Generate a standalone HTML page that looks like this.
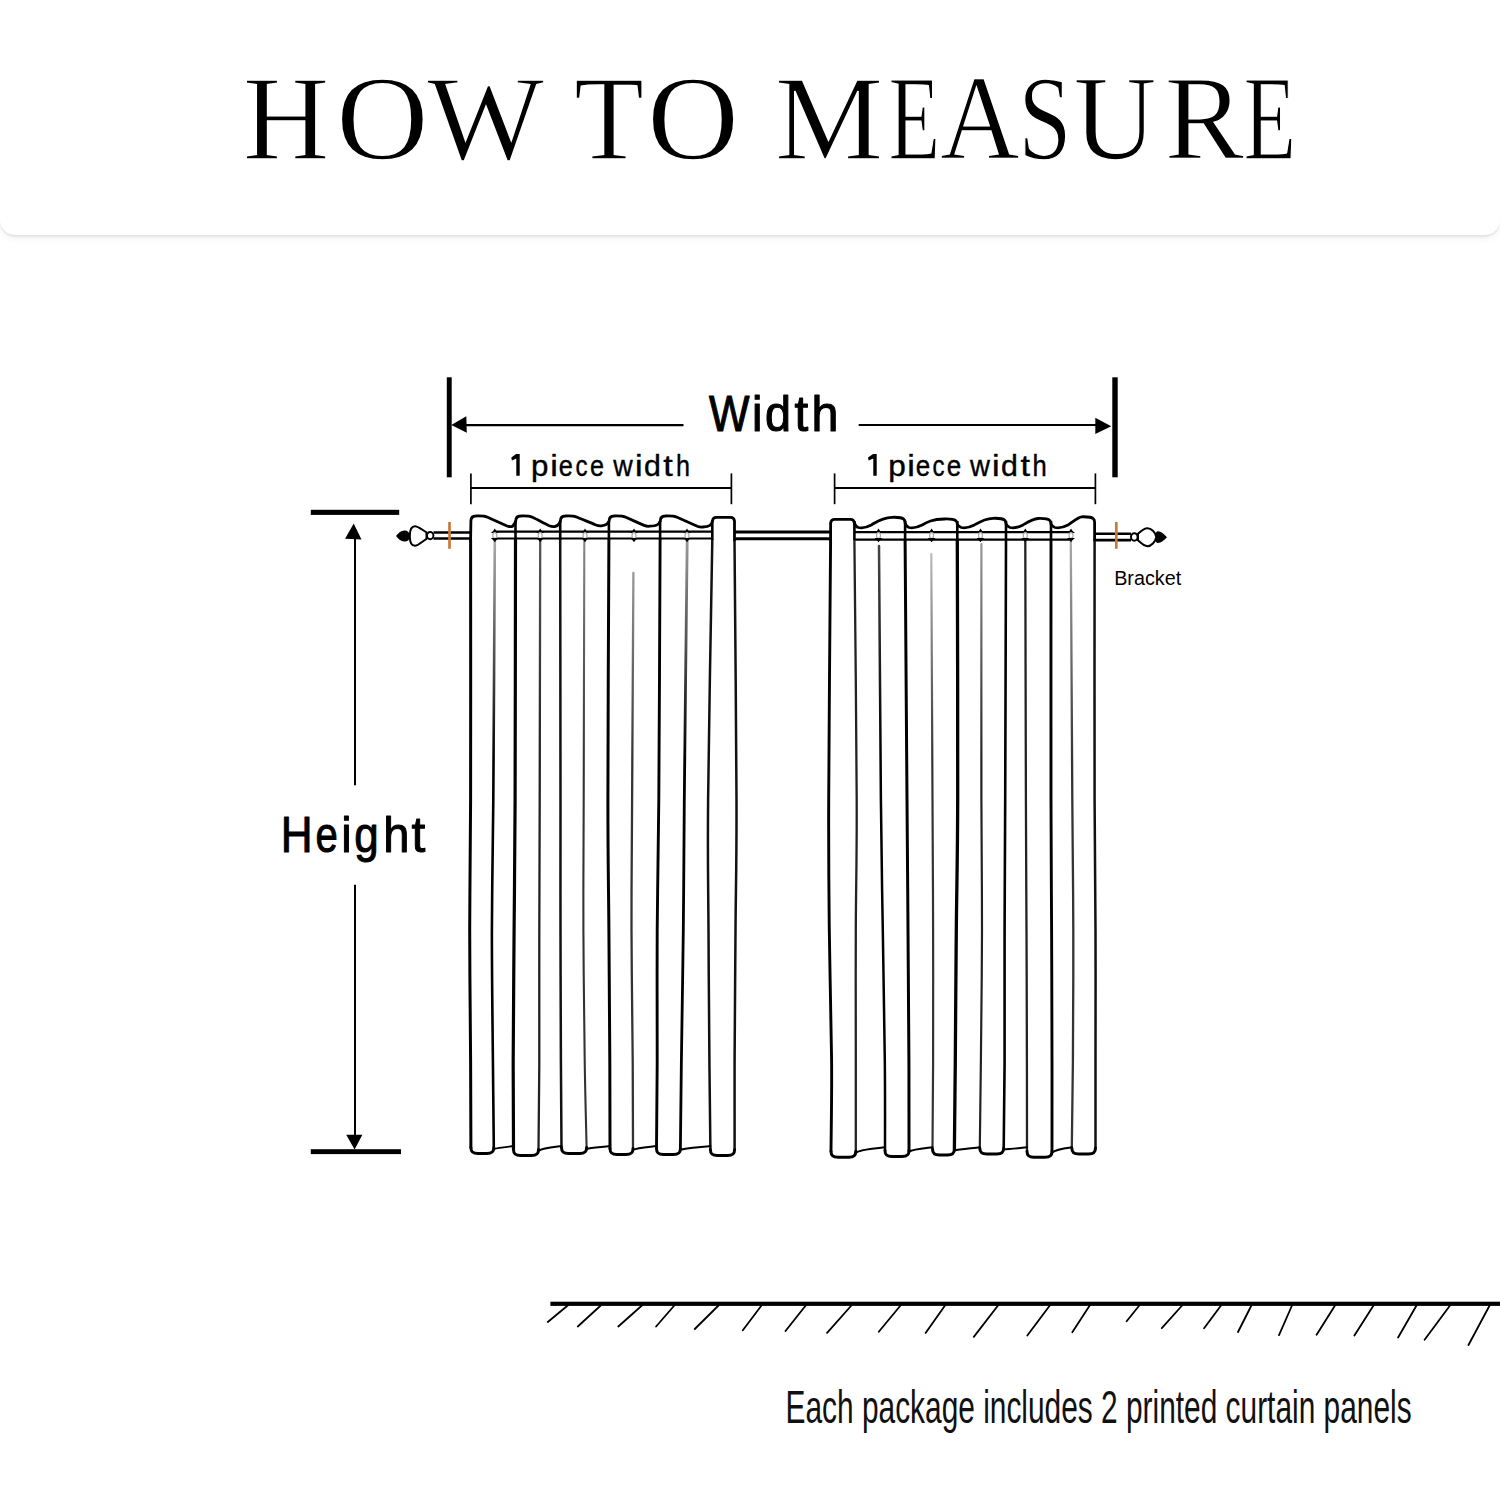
<!DOCTYPE html>
<html><head><meta charset="utf-8"><title>How to measure</title>
<style>
html,body{margin:0;padding:0;background:#fff;}
body{width:1500px;height:1500px;position:relative;overflow:hidden;font-family:"Liberation Sans",sans-serif;}
.card{position:absolute;left:0;top:-30px;width:1500px;height:265px;background:#fff;border-radius:0 0 15px 15px;box-shadow:0 2px 2px rgba(0,0,0,0.08),0 5px 6px rgba(0,0,0,0.035);}
svg{position:absolute;left:0;top:0;}
</style></head>
<body>
<div class="card"></div>
<svg width="1500" height="1500" viewBox="0 0 1500 1500">
<defs><linearGradient id="gl1" gradientUnits="userSpaceOnUse" x1="0" y1="541" x2="0" y2="760"><stop offset="0" stop-color="#aaa"/><stop offset="1" stop-color="#000"/></linearGradient><linearGradient id="gl3" gradientUnits="userSpaceOnUse" x1="0" y1="541" x2="0" y2="760"><stop offset="0" stop-color="#555"/><stop offset="1" stop-color="#222"/></linearGradient><linearGradient id="gl5" gradientUnits="userSpaceOnUse" x1="0" y1="541" x2="0" y2="760"><stop offset="0" stop-color="#888"/><stop offset="1" stop-color="#333"/></linearGradient><linearGradient id="gl7" gradientUnits="userSpaceOnUse" x1="0" y1="573" x2="0" y2="760"><stop offset="0" stop-color="#999"/><stop offset="1" stop-color="#333"/></linearGradient><linearGradient id="gl9" gradientUnits="userSpaceOnUse" x1="0" y1="541" x2="0" y2="760"><stop offset="0" stop-color="#999"/><stop offset="1" stop-color="#000"/></linearGradient><linearGradient id="gr2" gradientUnits="userSpaceOnUse" x1="0" y1="546" x2="0" y2="760"><stop offset="0" stop-color="#444"/><stop offset="1" stop-color="#000"/></linearGradient><linearGradient id="gr4" gradientUnits="userSpaceOnUse" x1="0" y1="554" x2="0" y2="760"><stop offset="0" stop-color="#bbb"/><stop offset="1" stop-color="#333"/></linearGradient><linearGradient id="gr6" gradientUnits="userSpaceOnUse" x1="0" y1="544" x2="0" y2="760"><stop offset="0" stop-color="#999"/><stop offset="1" stop-color="#222"/></linearGradient><linearGradient id="gr10" gradientUnits="userSpaceOnUse" x1="0" y1="542" x2="0" y2="760"><stop offset="0" stop-color="#aaa"/><stop offset="1" stop-color="#333"/></linearGradient></defs>
<text transform="translate(242.67,158.65) scale(0.9873,1)" font-family="Liberation Serif" font-size="121.69" stroke="#fff" stroke-width="1.5">H</text>
<text transform="translate(335.94,158.65) scale(1.0556,1)" font-family="Liberation Serif" font-size="121.69" stroke="#fff" stroke-width="1.5">O</text>
<text transform="translate(426.95,158.65) scale(1.0208,1)" font-family="Liberation Serif" font-size="121.69" stroke="#fff" stroke-width="1.5">W</text>
<text transform="translate(574.06,158.65) scale(0.9425,1)" font-family="Liberation Serif" font-size="121.69" stroke="#fff" stroke-width="1.5">T</text>
<text transform="translate(646.96,158.65) scale(1.0481,1)" font-family="Liberation Serif" font-size="121.69" stroke="#fff" stroke-width="1.5">O</text>
<text transform="translate(774.84,158.65) scale(1.0031,1)" font-family="Liberation Serif" font-size="121.69" stroke="#fff" stroke-width="1.5">M</text>
<text transform="translate(888.43,158.65) scale(0.6957,1)" font-family="Liberation Serif" font-size="121.69" stroke="#fff" stroke-width="1.5">E</text>
<text transform="translate(939.95,158.65) scale(0.9067,1)" font-family="Liberation Serif" font-size="121.69" stroke="#fff" stroke-width="1.5">A</text>
<text transform="translate(1018.25,158.65) scale(0.7889,1)" font-family="Liberation Serif" font-size="121.69" stroke="#fff" stroke-width="1.5">S</text>
<text transform="translate(1073.45,158.65) scale(0.9455,1)" font-family="Liberation Serif" font-size="121.69" stroke="#fff" stroke-width="1.5">U</text>
<text transform="translate(1164.59,158.65) scale(0.9805,1)" font-family="Liberation Serif" font-size="121.69" stroke="#fff" stroke-width="1.5">R</text>
<text transform="translate(1243.50,158.65) scale(0.7078,1)" font-family="Liberation Serif" font-size="121.69" stroke="#fff" stroke-width="1.5">E</text>
<text transform="translate(709.05,430.55) scale(0.8606,1)" font-family="Liberation Sans" font-size="49.86" stroke="#000" stroke-width="1.1" stroke-linejoin="round">W</text>
<text transform="translate(752.12,430.55) scale(0.9413,1)" font-family="Liberation Sans" font-size="49.86" stroke="#000" stroke-width="1.1" stroke-linejoin="round">i</text>
<text transform="translate(765.09,430.55) scale(0.9370,1)" font-family="Liberation Sans" font-size="49.86" stroke="#000" stroke-width="1.1" stroke-linejoin="round">d</text>
<text transform="translate(794.55,430.55) scale(0.9912,1)" font-family="Liberation Sans" font-size="49.86" stroke="#000" stroke-width="1.1" stroke-linejoin="round">t</text>
<text transform="translate(811.52,430.55) scale(0.9719,1)" font-family="Liberation Sans" font-size="49.86" stroke="#000" stroke-width="1.1" stroke-linejoin="round">h</text>
<text transform="translate(280.86,851.70) scale(0.8769,1)" font-family="Liberation Sans" font-size="50.28" stroke="#000" stroke-width="1.0" stroke-linejoin="round">H</text>
<text transform="translate(315.45,851.70) scale(0.7966,1)" font-family="Liberation Sans" font-size="50.28" stroke="#000" stroke-width="1.0" stroke-linejoin="round">e</text>
<text transform="translate(341.37,851.70) scale(0.9335,1)" font-family="Liberation Sans" font-size="50.28" stroke="#000" stroke-width="1.0" stroke-linejoin="round">i</text>
<text transform="translate(354.33,851.70) scale(0.8741,1)" font-family="Liberation Sans" font-size="50.28" stroke="#000" stroke-width="1.0" stroke-linejoin="round">g</text>
<text transform="translate(383.36,851.70) scale(0.9365,1)" font-family="Liberation Sans" font-size="50.28" stroke="#000" stroke-width="1.0" stroke-linejoin="round">h</text>
<text transform="translate(411.50,851.70) scale(0.9900,1)" font-family="Liberation Sans" font-size="50.28" stroke="#000" stroke-width="1.0" stroke-linejoin="round">t</text>
<path d="M516.1,454.0 L519.7,454.0 L519.7,475.7 L516.3,475.7 L516.3,458.6 L511.9,460.6 L511.3,457.6 Z" fill="#000"/>
<text transform="translate(530.94,475.50) scale(1.0534,1)" font-family="Liberation Sans" font-size="29.75" stroke="#000" stroke-width="0.4" stroke-linejoin="round">p</text>
<text transform="translate(550.26,475.50) scale(1.1500,1)" font-family="Liberation Sans" font-size="29.75" stroke="#000" stroke-width="0.4" stroke-linejoin="round">i</text>
<text transform="translate(558.71,475.50) scale(0.8536,1)" font-family="Liberation Sans" font-size="29.75" stroke="#000" stroke-width="0.4" stroke-linejoin="round">e</text>
<text transform="translate(575.45,475.50) scale(0.8086,1)" font-family="Liberation Sans" font-size="29.75" stroke="#000" stroke-width="0.4" stroke-linejoin="round">c</text>
<text transform="translate(590.11,475.50) scale(0.8467,1)" font-family="Liberation Sans" font-size="29.75" stroke="#000" stroke-width="0.4" stroke-linejoin="round">e</text>
<text transform="translate(613.32,475.50) scale(0.9054,1)" font-family="Liberation Sans" font-size="29.75" stroke="#000" stroke-width="0.4" stroke-linejoin="round">w</text>
<text transform="translate(634.96,475.50) scale(1.1500,1)" font-family="Liberation Sans" font-size="29.75" stroke="#000" stroke-width="0.4" stroke-linejoin="round">i</text>
<text transform="translate(643.95,475.50) scale(1.0183,1)" font-family="Liberation Sans" font-size="29.75" stroke="#000" stroke-width="0.4" stroke-linejoin="round">d</text>
<text transform="translate(663.19,475.50) scale(1.1500,1)" font-family="Liberation Sans" font-size="29.75" stroke="#000" stroke-width="0.4" stroke-linejoin="round">t</text>
<text transform="translate(675.93,475.50) scale(0.8452,1)" font-family="Liberation Sans" font-size="29.75" stroke="#000" stroke-width="0.4" stroke-linejoin="round">h</text>
<path d="M873.1,454.0 L876.7,454.0 L876.7,475.7 L873.3,475.7 L873.3,458.6 L868.6,460.6 L868.0,457.6 Z" fill="#000"/>
<text transform="translate(888.23,475.50) scale(1.0608,1)" font-family="Liberation Sans" font-size="29.75" stroke="#000" stroke-width="0.4" stroke-linejoin="round">p</text>
<text transform="translate(907.26,475.50) scale(1.1500,1)" font-family="Liberation Sans" font-size="29.75" stroke="#000" stroke-width="0.4" stroke-linejoin="round">i</text>
<text transform="translate(915.69,475.50) scale(0.8744,1)" font-family="Liberation Sans" font-size="29.75" stroke="#000" stroke-width="0.4" stroke-linejoin="round">e</text>
<text transform="translate(932.45,475.50) scale(0.8086,1)" font-family="Liberation Sans" font-size="29.75" stroke="#000" stroke-width="0.4" stroke-linejoin="round">c</text>
<text transform="translate(946.69,475.50) scale(0.8744,1)" font-family="Liberation Sans" font-size="29.75" stroke="#000" stroke-width="0.4" stroke-linejoin="round">e</text>
<text transform="translate(969.93,475.50) scale(0.9278,1)" font-family="Liberation Sans" font-size="29.75" stroke="#000" stroke-width="0.4" stroke-linejoin="round">w</text>
<text transform="translate(992.11,475.50) scale(1.1500,1)" font-family="Liberation Sans" font-size="29.75" stroke="#000" stroke-width="0.4" stroke-linejoin="round">i</text>
<text transform="translate(1000.95,475.50) scale(1.0183,1)" font-family="Liberation Sans" font-size="29.75" stroke="#000" stroke-width="0.4" stroke-linejoin="round">d</text>
<text transform="translate(1020.39,475.50) scale(1.1500,1)" font-family="Liberation Sans" font-size="29.75" stroke="#000" stroke-width="0.4" stroke-linejoin="round">t</text>
<text transform="translate(1032.60,475.50) scale(0.8605,1)" font-family="Liberation Sans" font-size="29.75" stroke="#000" stroke-width="0.4" stroke-linejoin="round">h</text>
<text transform="translate(1114.15,584.80) scale(1.0047,1)" font-family="Liberation Sans" font-size="19.69" fill="#000">Bracket</text>
<text transform="translate(785.57,1422.90) scale(0.6424,1)" font-family="Liberation Sans" font-size="46.51" fill="#111">Each package includes 2 printed curtain panels</text>
<rect x="446.8" y="377.3" width="4.9" height="100" fill="#000"/>
<rect x="1112.3" y="377.3" width="5.4" height="100" fill="#000"/>
<line x1="462" y1="425.1" x2="683.5" y2="425.1" stroke="#000" stroke-width="2.2"/>
<path d="M451.3,425 L466.3,416.2 L466.8,432.8 Z" fill="#000"/>
<line x1="858.7" y1="425" x2="1100" y2="425" stroke="#000" stroke-width="2.1"/>
<path d="M1111.2,426.2 L1095.3,417.8 L1095.3,434 Z" fill="#000"/>
<line x1="470.9" y1="487.9" x2="731.4" y2="487.9" stroke="#000" stroke-width="2"/>
<line x1="470.9" y1="473.4" x2="470.9" y2="504.2" stroke="#000" stroke-width="1.7"/>
<line x1="731.4" y1="473.4" x2="731.4" y2="504.2" stroke="#000" stroke-width="1.7"/>
<line x1="834.6" y1="487.9" x2="1095.4" y2="487.9" stroke="#000" stroke-width="2"/>
<line x1="834.6" y1="473.4" x2="834.6" y2="504.2" stroke="#000" stroke-width="1.7"/>
<line x1="1095.4" y1="473.4" x2="1095.4" y2="504.2" stroke="#000" stroke-width="1.7"/>
<rect x="310.8" y="509.8" width="88.4" height="5.1" fill="#000"/>
<rect x="310.8" y="1149.2" width="90.2" height="4.9" fill="#000"/>
<path d="M353.7,523.4 L345.1,538.8 L361.5,539.4 Z" fill="#000"/>
<line x1="355" y1="538" x2="355" y2="785.2" stroke="#000" stroke-width="2.0"/>
<line x1="355" y1="884.8" x2="355" y2="1136" stroke="#000" stroke-width="2.0"/>
<path d="M346.2,1134.7 L362.4,1134.7 L354.6,1149.6 Z" fill="#000"/>
<line x1="433.5" y1="532.6" x2="471" y2="532.6" stroke="#000" stroke-width="2.5"/>
<line x1="433.5" y1="538.6" x2="471" y2="538.6" stroke="#000" stroke-width="2.5"/>
<line x1="494" y1="531.6" x2="711" y2="531.6" stroke="#000" stroke-width="2.2"/>
<line x1="494" y1="538.5" x2="711" y2="538.5" stroke="#000" stroke-width="2.2"/>
<line x1="735" y1="531.9" x2="831" y2="531.9" stroke="#000" stroke-width="3.0"/>
<line x1="735" y1="538.8" x2="831" y2="538.8" stroke="#000" stroke-width="3.0"/>
<line x1="855" y1="532.1" x2="1071" y2="532.1" stroke="#000" stroke-width="2.2"/>
<line x1="855" y1="539.6" x2="1071" y2="539.6" stroke="#000" stroke-width="2.2"/>
<line x1="1095" y1="533.8" x2="1131" y2="533.8" stroke="#000" stroke-width="2.6"/>
<line x1="1095" y1="540.1" x2="1131" y2="540.1" stroke="#000" stroke-width="2.6"/>
<path d="M396,536 C398,533.5 400,531 404,530.5 C407,530 409.5,532 410.5,536 C409.5,540 407,542 404,541.5 C400,541 398,538.5 396,536 Z" fill="#000"/>
<path d="M409.8,536 C409.8,529 412,526.2 415,526.2 C418,526.2 421,529 426.5,532.4 L426.5,538.8 C421,542.5 418,545.8 415,545.8 C412,545.8 409.8,543 409.8,536 Z" fill="#fff" stroke="#000" stroke-width="2"/>
<ellipse cx="430.2" cy="535.6" rx="3.2" ry="3.6" fill="#fff" stroke="#000" stroke-width="1.9"/>
<path d="M1167,537.2 C1164,534 1161,531.5 1158,531.3 C1156.5,531.2 1155.3,533 1155,537.2 C1155.3,541.4 1156.5,543.2 1158,543.1 C1161,542.9 1164,540.4 1167,537.2 Z" fill="#000"/>
<path d="M1138,533.8 C1141,531 1144,528.3 1147.5,528.3 C1151,528.3 1155.5,532 1156.3,537 C1155.5,542 1151,546.2 1147.5,546.2 C1144,546.2 1141,543 1138,540.3 Z" fill="#fff" stroke="#000" stroke-width="2"/>
<ellipse cx="1134.3" cy="537" rx="3.3" ry="3.8" fill="#fff" stroke="#000" stroke-width="2"/>
<line x1="449.5" y1="522" x2="449.5" y2="548.8" stroke="#c97a3a" stroke-width="2.7"/>
<line x1="1116.3" y1="522" x2="1116.3" y2="548.8" stroke="#c97a3a" stroke-width="2.7"/>
<path d="M470.6,540.0 C470.6,583.3 470.8,735.0 470.6,800.0 C470.5,865.0 469.7,886.7 469.7,930.0 C469.7,973.3 470.4,1023.8 470.6,1060.0 C470.8,1096.2 470.8,1132.9 470.9,1147.5" fill="none" stroke="#000" stroke-width="3.0" stroke-linecap="round"/>
<path d="M494.8,541.0 C494.5,584.2 493.8,735.2 493.3,800.0 C492.8,864.8 492.0,886.7 491.9,930.0 C491.8,973.3 492.6,1023.8 492.9,1060.0 C493.2,1096.2 493.6,1132.9 493.8,1147.5" fill="none" stroke="url(#gl1)" stroke-width="2.6" stroke-linecap="round"/>
<path d="M515.5,540.0 C515.4,583.3 515.3,735.0 515.1,800.0 C514.9,865.0 514.4,886.7 514.1,930.0 C513.8,973.3 513.3,1023.4 513.2,1060.0 C513.1,1096.6 513.5,1134.5 513.5,1149.4" fill="none" stroke="#000" stroke-width="3.2" stroke-linecap="round"/>
<path d="M540.2,541.0 C540.1,584.2 539.8,735.2 539.7,800.0 C539.6,864.8 539.4,886.7 539.3,930.0 C539.2,973.3 539.4,1023.4 539.3,1060.0 C539.2,1096.6 538.6,1134.5 538.5,1149.4" fill="none" stroke="url(#gl3)" stroke-width="2.3" stroke-linecap="round"/>
<path d="M560.2,540.0 C560.2,583.3 560.5,735.0 560.5,800.0 C560.5,865.0 560.4,886.7 560.5,930.0 C560.6,973.3 560.7,1023.8 560.9,1060.0 C561.1,1096.2 561.4,1132.9 561.5,1147.5" fill="none" stroke="#111" stroke-width="2.5" stroke-linecap="round"/>
<path d="M584.3,541.0 C584.2,584.2 583.8,735.2 583.7,800.0 C583.6,864.8 583.2,886.7 583.4,930.0 C583.6,973.3 584.2,1023.8 584.7,1060.0 C585.2,1096.2 586.3,1132.9 586.6,1147.5" fill="none" stroke="url(#gl5)" stroke-width="2.1" stroke-linecap="round"/>
<path d="M608.9,540.0 C608.7,583.3 607.9,735.0 607.9,800.0 C607.9,865.0 608.6,886.7 608.9,930.0 C609.2,973.3 609.6,1023.6 609.8,1060.0 C610.0,1096.4 610.0,1133.7 610.0,1148.4" fill="none" stroke="#000" stroke-width="3.0" stroke-linecap="round"/>
<path d="M633.4,573.0 C633.2,610.8 632.4,740.5 632.1,800.0 C631.8,859.5 631.4,886.7 631.5,930.0 C631.6,973.3 632.5,1023.6 632.7,1060.0 C633.0,1096.4 633.0,1133.7 633.0,1148.4" fill="none" stroke="url(#gl7)" stroke-width="2.3" stroke-linecap="round"/>
<path d="M660.1,540.0 C659.9,583.3 659.3,735.0 658.8,800.0 C658.3,865.0 657.5,886.7 657.2,930.0 C656.9,973.3 657.3,1023.6 657.2,1060.0 C657.1,1096.4 656.6,1133.7 656.5,1148.4" fill="none" stroke="#000" stroke-width="2.9" stroke-linecap="round"/>
<path d="M687.2,541.0 C686.7,584.2 684.9,735.2 684.3,800.0 C683.7,864.8 683.8,886.7 683.3,930.0 C682.8,973.3 681.9,1023.6 681.4,1060.0 C680.9,1096.4 680.6,1133.7 680.4,1148.4" fill="none" stroke="url(#gl9)" stroke-width="2.8" stroke-linecap="round"/>
<path d="M712.3,540.0 C711.6,583.3 708.7,735.0 708.1,800.0 C707.5,865.0 708.3,886.7 708.5,930.0 C708.7,973.3 709.1,1023.4 709.4,1060.0 C709.7,1096.6 710.2,1134.5 710.4,1149.4" fill="none" stroke="#111" stroke-width="2.5" stroke-linecap="round"/>
<path d="M734.5,540.0 C734.8,583.3 736.3,735.0 736.5,800.0 C736.7,865.0 735.8,886.7 735.5,930.0 C735.2,973.3 734.8,1023.4 734.6,1060.0 C734.5,1096.6 734.6,1134.5 734.6,1149.4" fill="none" stroke="#111" stroke-width="2.5" stroke-linecap="round"/>
<path d="M470.9,1147.5 C470.9,1152.0 472.9,1153.5 477.9,1153.5 L486.8,1153.5 C491.8,1153.5 493.8,1152.0 493.8,1147.5" fill="none" stroke="#000" stroke-width="3" stroke-linecap="round" stroke-linejoin="round"/>
<path d="M513.5,1149.4 C513.5,1153.9 515.5,1155.4 520.5,1155.4 L531.5,1155.4 C536.5,1155.4 538.5,1153.9 538.5,1149.4" fill="none" stroke="#000" stroke-width="3" stroke-linecap="round" stroke-linejoin="round"/>
<path d="M561.5,1147.5 C561.5,1152.0 563.5,1153.5 568.5,1153.5 L579.6,1153.5 C584.6,1153.5 586.6,1152.0 586.6,1147.5" fill="none" stroke="#000" stroke-width="3" stroke-linecap="round" stroke-linejoin="round"/>
<path d="M610.0,1148.4 C610.0,1152.9 612.0,1154.4 617.0,1154.4 L626.0,1154.4 C631.0,1154.4 633.0,1152.9 633.0,1148.4" fill="none" stroke="#000" stroke-width="3" stroke-linecap="round" stroke-linejoin="round"/>
<path d="M656.5,1148.4 C656.5,1152.9 658.5,1154.4 663.5,1154.4 L673.4,1154.4 C678.4,1154.4 680.4,1152.9 680.4,1148.4" fill="none" stroke="#000" stroke-width="3" stroke-linecap="round" stroke-linejoin="round"/>
<path d="M710.4,1149.4 C710.4,1153.9 712.4,1155.4 717.4,1155.4 L727.6,1155.4 C732.6,1155.4 734.6,1153.9 734.6,1149.4" fill="none" stroke="#000" stroke-width="3" stroke-linecap="round" stroke-linejoin="round"/>
<path d="M493.8,1149.0 C497.8,1147.9 505.5,1147.1 513.5,1146.1" fill="none" stroke="#000" stroke-width="2" stroke-linecap="round"/>
<path d="M538.5,1150.9 C542.5,1147.9 553.5,1147.1 561.5,1146.1" fill="none" stroke="#000" stroke-width="2" stroke-linecap="round"/>
<path d="M586.6,1149.0 C590.6,1147.9 602.0,1147.1 610.0,1146.1" fill="none" stroke="#000" stroke-width="2" stroke-linecap="round"/>
<path d="M633.0,1149.9 C637.0,1147.9 648.5,1147.1 656.5,1146.1" fill="none" stroke="#000" stroke-width="2" stroke-linecap="round"/>
<path d="M680.4,1149.9 C684.4,1147.9 702.4,1147.1 710.4,1146.1" fill="none" stroke="#000" stroke-width="2" stroke-linecap="round"/>
<path d="M830.6,540.0 C830.3,583.3 828.9,735.0 828.7,800.0 C828.5,865.0 828.8,886.7 829.3,930.0 C829.8,973.3 831.3,1023.1 831.6,1060.0 C831.9,1096.9 831.1,1136.1 831.0,1151.3" fill="none" stroke="#000" stroke-width="2.9" stroke-linecap="round"/>
<path d="M854.4,540.0 C854.8,583.3 856.5,735.0 856.7,800.0 C856.9,865.0 855.9,886.7 855.8,930.0 C855.6,973.3 855.8,1023.1 855.8,1060.0 C855.8,1096.9 855.8,1136.1 855.8,1151.3" fill="none" stroke="#222" stroke-width="2.3" stroke-linecap="round"/>
<path d="M879.0,546.0 C879.4,588.3 880.3,736.0 880.9,800.0 C881.5,864.0 882.1,886.7 882.8,930.0 C883.4,973.3 884.4,1023.3 884.8,1060.0 C885.2,1096.7 885.0,1135.3 885.0,1150.4" fill="none" stroke="url(#gr2)" stroke-width="2.5" stroke-linecap="round"/>
<path d="M905.1,540.0 C905.4,583.3 906.5,735.0 907.0,800.0 C907.5,865.0 907.7,886.7 908.0,930.0 C908.3,973.3 908.7,1023.3 908.9,1060.0 C909.1,1096.7 909.0,1135.3 909.0,1150.4" fill="none" stroke="#000" stroke-width="3.0" stroke-linecap="round"/>
<path d="M931.3,554.0 C931.5,595.0 932.2,737.3 932.5,800.0 C932.8,862.7 933.0,886.7 933.1,930.0 C933.2,973.3 933.2,1023.5 933.1,1060.0 C933.0,1096.5 932.6,1134.2 932.5,1149.0" fill="none" stroke="url(#gr4)" stroke-width="2.2" stroke-linecap="round"/>
<path d="M957.3,540.0 C957.4,583.3 957.9,735.0 957.7,800.0 C957.5,865.0 956.7,886.7 956.3,930.0 C955.9,973.3 955.6,1023.5 955.3,1060.0 C955.0,1096.5 954.5,1134.2 954.4,1149.0" fill="none" stroke="#000" stroke-width="3.3" stroke-linecap="round"/>
<path d="M981.4,544.0 C981.4,586.7 981.3,735.7 981.4,800.0 C981.5,864.3 982.1,886.7 982.0,930.0 C981.9,973.3 981.3,1023.7 980.9,1060.0 C980.5,1096.3 980.0,1133.3 979.8,1148.0" fill="none" stroke="url(#gr6)" stroke-width="2.2" stroke-linecap="round"/>
<path d="M1006.0,540.0 C1005.9,583.3 1005.4,735.0 1005.2,800.0 C1005.0,865.0 1004.7,886.7 1004.6,930.0 C1004.5,973.3 1004.8,1023.7 1004.6,1060.0 C1004.5,1096.3 1003.9,1133.3 1003.7,1148.0" fill="none" stroke="#000" stroke-width="2.6" stroke-linecap="round"/>
<path d="M1025.3,540.0 C1025.4,583.3 1025.7,735.0 1025.9,800.0 C1026.1,865.0 1026.3,886.7 1026.5,930.0 C1026.7,973.3 1026.8,1023.1 1026.9,1060.0 C1027.0,1096.9 1027.0,1136.1 1027.0,1151.3" fill="none" stroke="#222" stroke-width="2.3" stroke-linecap="round"/>
<path d="M1051.0,540.0 C1051.0,583.3 1050.9,735.0 1051.0,800.0 C1051.1,865.0 1051.4,886.7 1051.6,930.0 C1051.8,973.3 1051.9,1023.1 1052.0,1060.0 C1052.1,1096.9 1052.0,1136.1 1052.0,1151.3" fill="none" stroke="#000" stroke-width="2.9" stroke-linecap="round"/>
<path d="M1070.8,542.0 C1071.1,585.0 1071.9,735.3 1072.3,800.0 C1072.7,864.7 1073.2,886.7 1073.3,930.0 C1073.4,973.3 1073.2,1023.7 1072.9,1060.0 C1072.7,1096.3 1072.0,1133.3 1071.8,1148.0" fill="none" stroke="url(#gr10)" stroke-width="2.3" stroke-linecap="round"/>
<path d="M1094.6,540.0 C1094.6,583.3 1094.4,735.0 1094.6,800.0 C1094.8,865.0 1095.3,886.7 1095.5,930.0 C1095.7,973.3 1095.5,1023.7 1095.5,1060.0 C1095.5,1096.3 1095.5,1133.3 1095.5,1148.0" fill="none" stroke="#111" stroke-width="2.5" stroke-linecap="round"/>
<path d="M831.0,1151.3 C831.0,1155.8 833.0,1157.3 838.0,1157.3 L848.8,1157.3 C853.8,1157.3 855.8,1155.8 855.8,1151.3" fill="none" stroke="#000" stroke-width="3" stroke-linecap="round" stroke-linejoin="round"/>
<path d="M885.0,1150.4 C885.0,1154.9 887.0,1156.4 892.0,1156.4 L902.0,1156.4 C907.0,1156.4 909.0,1154.9 909.0,1150.4" fill="none" stroke="#000" stroke-width="3" stroke-linecap="round" stroke-linejoin="round"/>
<path d="M932.5,1149.0 C932.5,1153.5 934.5,1155.0 939.5,1155.0 L947.4,1155.0 C952.4,1155.0 954.4,1153.5 954.4,1149.0" fill="none" stroke="#000" stroke-width="3" stroke-linecap="round" stroke-linejoin="round"/>
<path d="M979.8,1148.0 C979.8,1152.5 981.8,1154.0 986.8,1154.0 L996.7,1154.0 C1001.7,1154.0 1003.7,1152.5 1003.7,1148.0" fill="none" stroke="#000" stroke-width="3" stroke-linecap="round" stroke-linejoin="round"/>
<path d="M1027.0,1151.3 C1027.0,1155.8 1029.0,1157.3 1034.0,1157.3 L1045.0,1157.3 C1050.0,1157.3 1052.0,1155.8 1052.0,1151.3" fill="none" stroke="#000" stroke-width="3" stroke-linecap="round" stroke-linejoin="round"/>
<path d="M1071.8,1148.0 C1071.8,1152.5 1073.8,1154.0 1078.8,1154.0 L1088.5,1154.0 C1093.5,1154.0 1095.5,1152.5 1095.5,1148.0" fill="none" stroke="#000" stroke-width="3" stroke-linecap="round" stroke-linejoin="round"/>
<path d="M855.8,1152.8 C859.8,1149.1 877.0,1148.3 885.0,1147.3" fill="none" stroke="#000" stroke-width="2" stroke-linecap="round"/>
<path d="M909.0,1151.9 C913.0,1149.1 924.5,1148.3 932.5,1147.3" fill="none" stroke="#000" stroke-width="2" stroke-linecap="round"/>
<path d="M954.4,1150.5 C958.4,1149.1 971.8,1148.3 979.8,1147.3" fill="none" stroke="#000" stroke-width="2" stroke-linecap="round"/>
<path d="M1003.7,1149.5 C1007.7,1149.1 1019.0,1148.3 1027.0,1147.3" fill="none" stroke="#000" stroke-width="2" stroke-linecap="round"/>
<path d="M1052.0,1152.8 C1056.0,1149.1 1063.8,1148.3 1071.8,1147.3" fill="none" stroke="#000" stroke-width="2" stroke-linecap="round"/>
<path d="M470.6,540 L470.9,521 Q471.0,516 475.6,516 C480.6,515.8 484.6,516 487.6,517.3 C492.6,519.5 501.5,523.5 506.5,525.7 C508.5,526.5 510.5,526.7 512.0,526.5 C513.0,526.0 514.7,524.5 515.7,521 Q515.9,516 520.5,516 C525.5,515.8 529.5,516 532.5,517.3 C537.5,519.5 544.2,523.5 549.2,525.7 C551.2,526.5 553.2,526.7 554.7,526.5 C557.7,526.0 559.4,524.5 560.4,521 Q560.6,516 565.2,516 C570.2,515.8 574.2,516 577.2,517.3 C582.2,519.5 590.9,522.8 595.9,525.0 C597.9,525.8 599.9,526.0 601.4,525.8 C606.4,525.3 608.1,523.8 609.1,521 Q609.3,516 613.9,516 C618.9,515.8 622.9,516 625.9,517.3 C630.9,519.5 639.1,523.2 644.1,525.4 C646.1,526.2 648.1,526.4 649.6,526.2 C657.6,525.7 659.3,524.2 660.3,521 Q660.5,516 665.1,516 C670.1,515.8 674.1,516 677.1,517.3 C682.1,519.5 692.3,524.0 697.3,526.2 C699.3,527.0 701.3,527.2 702.8,527.0 C709.8,526.5 711.5,525.0 712.5,521 Q712.8,517.3 716.3,517.3 L730.5,517.3 Q734.0,517.3 734.5,521 L734.5,540" fill="none" stroke="#000" stroke-width="2.8" stroke-linejoin="round" stroke-linecap="round"/>
<path d="M830.6,540 L830.6,523 Q831.1,519.3 834.6,519.3 L850.4,519.3 Q853.9,519.3 854.4,523 Q855.4,526.5 858.4,527.5 C862.4,528.4 866.4,527.6 871.4,525 C876.4,522 881.4,517.6 892.1,517.3 C898.1,517.1 902.1,517.6 903.9,519.3 Q905.1,520.3 905.1,522.8 Q906.1,526.5 909.1,527.5 C913.1,528.4 917.1,527.6 922.1,525 C927.1,522 932.1,519.3 944.3,519.0 C950.3,518.8 954.3,519.3 956.1,521.0 Q957.3,522.0 957.3,524.5 Q958.3,526.5 961.3,527.5 C965.3,528.4 969.3,527.6 974.3,525 C979.3,522 984.3,518.6 993.0,518.3 C999.0,518.1 1003.0,518.6 1004.8,520.3 Q1006.0,521.3 1006.0,523.8 Q1007.0,526.5 1010.0,527.5 C1014.0,528.4 1018.0,527.6 1023.0,525 C1028.0,522 1033.0,518.8 1038.0,518.5 C1044.0,518.3 1048.0,518.8 1049.8,520.5 Q1051.0,521.5 1051.0,524.0 Q1052.0,526.5 1055.0,527.5 C1059.0,528.4 1063.0,527.6 1068.0,525 C1073.0,522 1078.0,517.1 1081.6,516.8 C1087.6,516.6 1091.6,517.1 1093.4,518.8 Q1094.6,519.8 1094.6,522.3 L1094.6,540" fill="none" stroke="#000" stroke-width="2.8" stroke-linejoin="round" stroke-linecap="round"/>
<line x1="515.5" y1="521" x2="515.5" y2="540" stroke="#000" stroke-width="2.6"/>
<line x1="560.2" y1="521" x2="560.2" y2="540" stroke="#000" stroke-width="2.6"/>
<line x1="608.9" y1="521" x2="608.9" y2="540" stroke="#000" stroke-width="2.6"/>
<line x1="660.1" y1="521" x2="660.1" y2="540" stroke="#000" stroke-width="2.6"/>
<line x1="712.3" y1="521" x2="712.3" y2="540" stroke="#000" stroke-width="2.6"/>
<line x1="854.4" y1="521" x2="854.4" y2="540" stroke="#000" stroke-width="2.6"/>
<line x1="905.1" y1="521" x2="905.1" y2="540" stroke="#000" stroke-width="2.6"/>
<line x1="957.3" y1="521" x2="957.3" y2="540" stroke="#000" stroke-width="2.6"/>
<line x1="1006.0" y1="521" x2="1006.0" y2="540" stroke="#000" stroke-width="2.6"/>
<line x1="1051.0" y1="521" x2="1051.0" y2="540" stroke="#000" stroke-width="2.6"/>
<path d="M490.8,533.0 Q493.8,530.7 494.8,528.4000000000001 Q495.8,530.7 498.8,533.0 Z" fill="#000"/>
<ellipse cx="494.8" cy="535.6" rx="2" ry="3" fill="#fff" stroke="#aaa" stroke-width="1.2"/>
<path d="M490.8,537.9000000000001 Q493.8,540.2 494.8,542.2 Q495.8,540.2 498.8,537.9000000000001 Z" fill="#000"/>
<path d="M536.2,533.0 Q539.2,530.7 540.2,528.4000000000001 Q541.2,530.7 544.2,533.0 Z" fill="#000"/>
<ellipse cx="540.2" cy="535.6" rx="2" ry="3" fill="#fff" stroke="#aaa" stroke-width="1.2"/>
<path d="M536.2,537.9000000000001 Q539.2,540.2 540.2,542.2 Q541.2,540.2 544.2,537.9000000000001 Z" fill="#000"/>
<path d="M581.0,533.0 Q584.0,530.7 585.0,528.4000000000001 Q586.0,530.7 589.0,533.0 Z" fill="#000"/>
<ellipse cx="585.0" cy="535.6" rx="2" ry="3" fill="#fff" stroke="#aaa" stroke-width="1.2"/>
<path d="M581.0,537.9000000000001 Q584.0,540.2 585.0,542.2 Q586.0,540.2 589.0,537.9000000000001 Z" fill="#000"/>
<path d="M630.0,533.0 Q633.0,530.7 634.0,528.4000000000001 Q635.0,530.7 638.0,533.0 Z" fill="#000"/>
<ellipse cx="634.0" cy="535.6" rx="2" ry="3" fill="#fff" stroke="#aaa" stroke-width="1.2"/>
<path d="M630.0,537.9000000000001 Q633.0,540.2 634.0,542.2 Q635.0,540.2 638.0,537.9000000000001 Z" fill="#000"/>
<path d="M683.0,533.0 Q686.0,530.7 687.0,528.4000000000001 Q688.0,530.7 691.0,533.0 Z" fill="#000"/>
<ellipse cx="687.0" cy="535.6" rx="2" ry="3" fill="#fff" stroke="#aaa" stroke-width="1.2"/>
<path d="M683.0,537.9000000000001 Q686.0,540.2 687.0,542.2 Q688.0,540.2 691.0,537.9000000000001 Z" fill="#000"/>
<path d="M874.5,533.0 Q877.5,530.7 878.5,528.4000000000001 Q879.5,530.7 882.5,533.0 Z" fill="#000"/>
<ellipse cx="878.5" cy="535.6" rx="2" ry="3" fill="#fff" stroke="#aaa" stroke-width="1.2"/>
<path d="M874.5,537.9000000000001 Q877.5,540.2 878.5,542.2 Q879.5,540.2 882.5,537.9000000000001 Z" fill="#000"/>
<path d="M927.6,533.0 Q930.6,530.7 931.6,528.4000000000001 Q932.6,530.7 935.6,533.0 Z" fill="#000"/>
<ellipse cx="931.6" cy="535.6" rx="2" ry="3" fill="#fff" stroke="#aaa" stroke-width="1.2"/>
<path d="M927.6,537.9000000000001 Q930.6,540.2 931.6,542.2 Q932.6,540.2 935.6,537.9000000000001 Z" fill="#000"/>
<path d="M976.5,533.0 Q979.5,530.7 980.5,528.4000000000001 Q981.5,530.7 984.5,533.0 Z" fill="#000"/>
<ellipse cx="980.5" cy="535.6" rx="2" ry="3" fill="#fff" stroke="#aaa" stroke-width="1.2"/>
<path d="M976.5,537.9000000000001 Q979.5,540.2 980.5,542.2 Q981.5,540.2 984.5,537.9000000000001 Z" fill="#000"/>
<path d="M1021.3,533.0 Q1024.3,530.7 1025.3,528.4000000000001 Q1026.3,530.7 1029.3,533.0 Z" fill="#000"/>
<ellipse cx="1025.3" cy="535.6" rx="2" ry="3" fill="#fff" stroke="#aaa" stroke-width="1.2"/>
<path d="M1021.3,537.9000000000001 Q1024.3,540.2 1025.3,542.2 Q1026.3,540.2 1029.3,537.9000000000001 Z" fill="#000"/>
<path d="M1067.0,533.0 Q1070.0,530.7 1071.0,528.4000000000001 Q1072.0,530.7 1075.0,533.0 Z" fill="#000"/>
<ellipse cx="1071.0" cy="535.6" rx="2" ry="3" fill="#fff" stroke="#aaa" stroke-width="1.2"/>
<path d="M1067.0,537.9000000000001 Q1070.0,540.2 1071.0,542.2 Q1072.0,540.2 1075.0,537.9000000000001 Z" fill="#000"/>
<rect x="550.4" y="1301.7" width="950" height="4.2" fill="#000"/>
<path d="M567.7,1305.5 L547.8,1322 M600.7,1305.5 L577.8,1326.5 M641.9,1305.5 L618.3,1326.5 M674.3,1305.5 L656.1,1326.5 M718.5,1305.5 L694.8,1329 M761.5,1305.5 L742.8,1330.3 M805.7,1305.5 L785.5,1331 M851.4,1305.5 L827.1,1332.9 M900.5,1305.5 L878.8,1331.7 M945,1305.5 L925.6,1332.9 M998,1305.5 L973.8,1336.9 M1049.8,1305.5 L1027.3,1335.5 M1089.7,1305.5 L1072.3,1332.3 M1139.3,1305.5 L1126.6,1321.3 M1182.1,1305.5 L1161.8,1328.2 M1221,1305.5 L1204.1,1328.2 M1251.4,1305.5 L1238,1332 M1292,1305.5 L1279,1335.1 M1335,1305.5 L1316.6,1334.8 M1373.5,1305.5 L1354.4,1335.5 M1416.5,1305.5 L1398.1,1337.5 M1450,1305.5 L1424.6,1339.8 M1489.6,1305.5 L1468.5,1345" stroke="#000" stroke-width="1.8" stroke-linecap="round" fill="none"/>
</svg>
</body></html>
